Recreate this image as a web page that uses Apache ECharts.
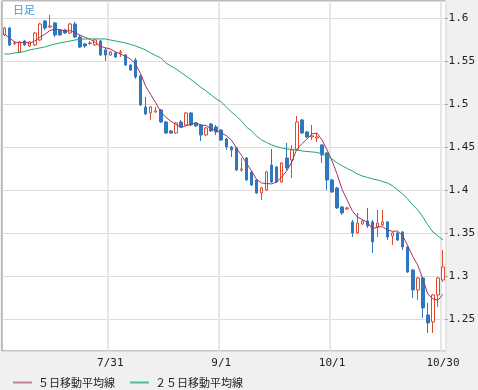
<!DOCTYPE html>
<html><head><meta charset="utf-8">
<script src="https://cdn.jsdelivr.net/npm/echarts@6/dist/echarts.min.js"></script>
<style>html,body{margin:0;padding:0;background:#f0f0f0}#c{width:478px;height:390px}</style>
</head><body><div id="c"></div>
<script>
const categories = ['7/1','7/2','7/3','7/6','7/7','7/8','7/9','7/10','7/13','7/14','7/15','7/16','7/17','7/20','7/21','7/22','7/23','7/24','7/27','7/28','7/29','7/30','7/31',
'8/3','8/4','8/5','8/6','8/7','8/10','8/11','8/12','8/13','8/14','8/17','8/18','8/19','8/20','8/21','8/24','8/25','8/26','8/27','8/28','8/31',
'9/1','9/2','9/3','9/4','9/7','9/8','9/9','9/10','9/11','9/14','9/15','9/16','9/17','9/18','9/21','9/22','9/23','9/24','9/25','9/28','9/29','9/30',
'10/1','10/2','10/5','10/6','10/7','10/8','10/9','10/12','10/13','10/14','10/15','10/16','10/19','10/20','10/21','10/22','10/23','10/26','10/27','10/28','10/29','10/30'];
const xTickIndex = [21, 43, 65, 87];
const xTickText = ['7/31', '9/1', '10/1', '10/30'];

const openV = [1.5806,1.5887,1.5707,1.5608,1.5736,1.5678,1.5690,1.5748,1.5969,1.5899,1.5946,1.5864,1.5864,1.5829,1.5934,1.5783,1.5701,1.5707,1.5690,1.5736,1.5632,1.5573,1.5597,1.5597,1.5573,1.5457,1.5515,1.5329,1.4969,1.4899,1.4911,1.4934,1.4794,1.4690,1.4666,1.4794,1.4759,1.4899,1.4783,1.4759,1.4643,1.4771,1.4736,1.4701,1.4597,1.4504,1.4492,1.4236,1.4376,1.4213,1.4120,1.3969,1.4004,1.4294,1.4271,1.4097,1.4376,1.4352,1.4469,1.4818,1.4678,1.4620,1.4608,1.4527,1.4434,1.4120,1.4027,1.3806,1.3783,1.3632,1.3504,1.3608,1.3643,1.3632,1.3573,1.3597,1.3632,1.3469,1.3504,1.3515,1.3341,1.3073,1.2841,1.2980,1.2550,1.2469,1.2783,1.2957];
const closeV = [1.5887,1.5690,1.5713,1.5725,1.5690,1.5725,1.5829,1.5934,1.5887,1.5911,1.5806,1.5806,1.5829,1.5934,1.5783,1.5666,1.5678,1.5713,1.5748,1.5573,1.5573,1.5608,1.5550,1.5608,1.5457,1.5399,1.5318,1.4992,1.4887,1.4969,1.4922,1.4794,1.4666,1.4666,1.4783,1.4736,1.4899,1.4759,1.4748,1.4643,1.4725,1.4690,1.4678,1.4585,1.4504,1.4469,1.4236,1.4248,1.4120,1.4062,1.3969,1.4027,1.4213,1.4097,1.4097,1.4318,1.4260,1.4469,1.4794,1.4666,1.4620,1.4632,1.4620,1.4411,1.4120,1.3980,1.3795,1.3736,1.3795,1.3504,1.3620,1.3643,1.3585,1.3399,1.3620,1.3632,1.3457,1.3504,1.3422,1.3341,1.3050,1.2841,1.2980,1.2632,1.2457,1.2783,1.2980,1.3108];
const lowV = [1.5794,1.5678,1.5690,1.5597,1.5678,1.5666,1.5678,1.5736,1.5864,1.5887,1.5783,1.5794,1.5818,1.5818,1.5771,1.5655,1.5655,1.5690,1.5678,1.5562,1.5504,1.5562,1.5539,1.5550,1.5446,1.5387,1.5294,1.4980,1.4876,1.4818,1.4899,1.4783,1.4655,1.4655,1.4655,1.4725,1.4748,1.4748,1.4736,1.4573,1.4632,1.4678,1.4643,1.4573,1.4469,1.4387,1.4225,1.4213,1.4108,1.4050,1.3957,1.3887,1.3992,1.4085,1.4085,1.4085,1.4236,1.4143,1.4457,1.4655,1.4608,1.4585,1.4562,1.4318,1.4004,1.3969,1.3783,1.3713,1.3771,1.3457,1.3492,1.3597,1.3562,1.3271,1.3457,1.3585,1.3422,1.3364,1.3411,1.3306,1.3039,1.2748,1.2725,1.2515,1.2341,1.2341,1.2643,1.2934];
const highV = [1.5899,1.5899,1.5736,1.5736,1.5748,1.5736,1.5841,1.5946,1.5980,1.6039,1.5957,1.5876,1.5876,1.5946,1.5957,1.5806,1.5713,1.5736,1.5760,1.5748,1.5655,1.5620,1.5608,1.5632,1.5585,1.5469,1.5539,1.5341,1.5085,1.4980,1.4969,1.4946,1.4806,1.4701,1.4794,1.4818,1.4911,1.4911,1.4794,1.4771,1.4736,1.4783,1.4759,1.4713,1.4608,1.4515,1.4504,1.4376,1.4387,1.4225,1.4132,1.4039,1.4225,1.4480,1.4283,1.4329,1.4550,1.4527,1.4864,1.4829,1.4690,1.4759,1.4666,1.4539,1.4446,1.4132,1.4039,1.3818,1.3806,1.3655,1.3736,1.3666,1.3795,1.3655,1.3771,1.3771,1.3643,1.3515,1.3515,1.3527,1.3352,1.3085,1.2992,1.2992,1.2690,1.2794,1.2992,1.3306];
const ma5 = [1.5818,1.5771,1.5725,1.5713,1.5725,1.5708,1.5736,1.5780,1.5813,1.5857,1.5873,1.5869,1.5848,1.5857,1.5831,1.5804,1.5778,1.5755,1.5718,1.5676,1.5657,1.5643,1.5611,1.5583,1.5560,1.5525,1.5466,1.5355,1.5211,1.5113,1.5017,1.4913,1.4848,1.4804,1.4766,1.4729,1.4750,1.4769,1.4785,1.4757,1.4755,1.4713,1.4697,1.4664,1.4636,1.4585,1.4494,1.4408,1.4315,1.4227,1.4127,1.4085,1.4078,1.4074,1.4097,1.4155,1.4225,1.4329,1.4480,1.4539,1.4597,1.4655,1.4666,1.4585,1.4469,1.4341,1.4185,1.4008,1.3885,1.3762,1.3690,1.3659,1.3629,1.3550,1.3573,1.3576,1.3538,1.3522,1.3527,1.3471,1.3355,1.3232,1.3127,1.2969,1.2792,1.2739,1.2720,1.2792];
const ma25 = [1.5585,1.5585,1.5597,1.5602,1.5614,1.5632,1.5643,1.5655,1.5666,1.5684,1.5701,1.5713,1.5725,1.5736,1.5748,1.5754,1.5760,1.5760,1.5760,1.5760,1.5760,1.5748,1.5736,1.5725,1.5713,1.5696,1.5678,1.5655,1.5632,1.5597,1.5568,1.5539,1.5480,1.5446,1.5411,1.5370,1.5329,1.5288,1.5242,1.5196,1.5155,1.5108,1.5062,1.5027,1.4969,1.4911,1.4864,1.4806,1.4736,1.4690,1.4632,1.4585,1.4556,1.4527,1.4509,1.4492,1.4480,1.4474,1.4469,1.4457,1.4451,1.4446,1.4440,1.4422,1.4399,1.4364,1.4318,1.4283,1.4254,1.4225,1.4190,1.4166,1.4149,1.4132,1.4120,1.4102,1.4085,1.4050,1.4004,1.3957,1.3899,1.3829,1.3771,1.3690,1.3597,1.3515,1.3469,1.3422];

const seriesNames = ['５日移動平均線', '２５日移動平均線'];

const candles = openV.map((o, i) => [o, closeV[i], lowV[i], highV[i]]);
const tickShown = (idx) => xTickIndex.indexOf(idx) >= 0;

const chart = echarts.init(document.getElementById('c'), null, {renderer: 'canvas'});
chart.setOption({
  animation: false,
  backgroundColor: '#f0f0f0',
  title: {
    text: '日足', left: 8, top: -1,
    textStyle: {color: '#3a9fe0', fontSize: 11, fontWeight: 'normal', fontFamily: 'Noto Sans CJK JP'}
  },
  legend: {
    data: [
      {name: seriesNames[0], itemStyle: {color: '#c47fa2'}},
      {name: seriesNames[1], itemStyle: {color: '#4fbf8c'}}
    ],
    icon: 'rect', itemWidth: 19, itemHeight: 2, itemGap: 15,
    left: 8, top: 372,
    textStyle: {color: '#222', fontSize: 11, fontFamily: 'Noto Sans CJK JP', padding: [0,0,0,1]}
  },
  grid: {
    left: 2, right: 32, top: 1, bottom: 39,
    show: true, backgroundColor: '#ffffff', borderColor: '#888', borderWidth: 1
  },
  xAxis: {
    type: 'category', data: categories, boundaryGap: true,
    axisLine: {show: false}, axisTick: {show: false},
    axisLabel: {
      interval: (idx) => tickShown(idx),
      formatter: (v, idx) => xTickText[xTickIndex.indexOf(idx)] || '',
      color: '#222', fontSize: 11, fontFamily: 'DejaVu Sans Mono', margin: 7
    },
    splitLine: {show: true, interval: (idx) => tickShown(idx), lineStyle: {color: '#e6e6e6', width: 2}}
  },
  yAxis: {
    type: 'value', position: 'right', min: 1.2131, max: 1.6201, splitNumber: 8, scale: true,
    axisLine: {show: false},
    axisTick: {show: true, length: 2, lineStyle: {color: '#888'}},
    axisLabel: {
      color: '#222', fontSize: 11, fontFamily: 'DejaVu Sans Mono', margin: 3,
      showMinLabel: false, showMaxLabel: false,
      formatter: (v) => Math.abs(v * 20 - Math.round(v * 20)) < 1e-6 ? String(+v.toFixed(2)) : ''
    },
    splitLine: {show: true, lineStyle: {color: '#dcdcdc', width: 1}}
  },
  series: [
    {
      type: 'candlestick', data: candles, barWidth: 3,
      itemStyle: {color: '#ffffff', borderColor: '#e0492a', color0: '#2f78c0', borderColor0: '#2f78c0', borderWidth: 1}
    },
    {
      name: seriesNames[0], type: 'line', data: ma5, symbol: 'none', smooth: false,
      lineStyle: {color: '#a8305f', width: 1}, itemStyle: {color: '#a8305f'}
    },
    {
      name: seriesNames[1], type: 'line', data: ma25, symbol: 'none', smooth: false,
      lineStyle: {color: '#1ea862', width: 1}, itemStyle: {color: '#1ea862'}
    }
  ]
});
</script></body></html>
